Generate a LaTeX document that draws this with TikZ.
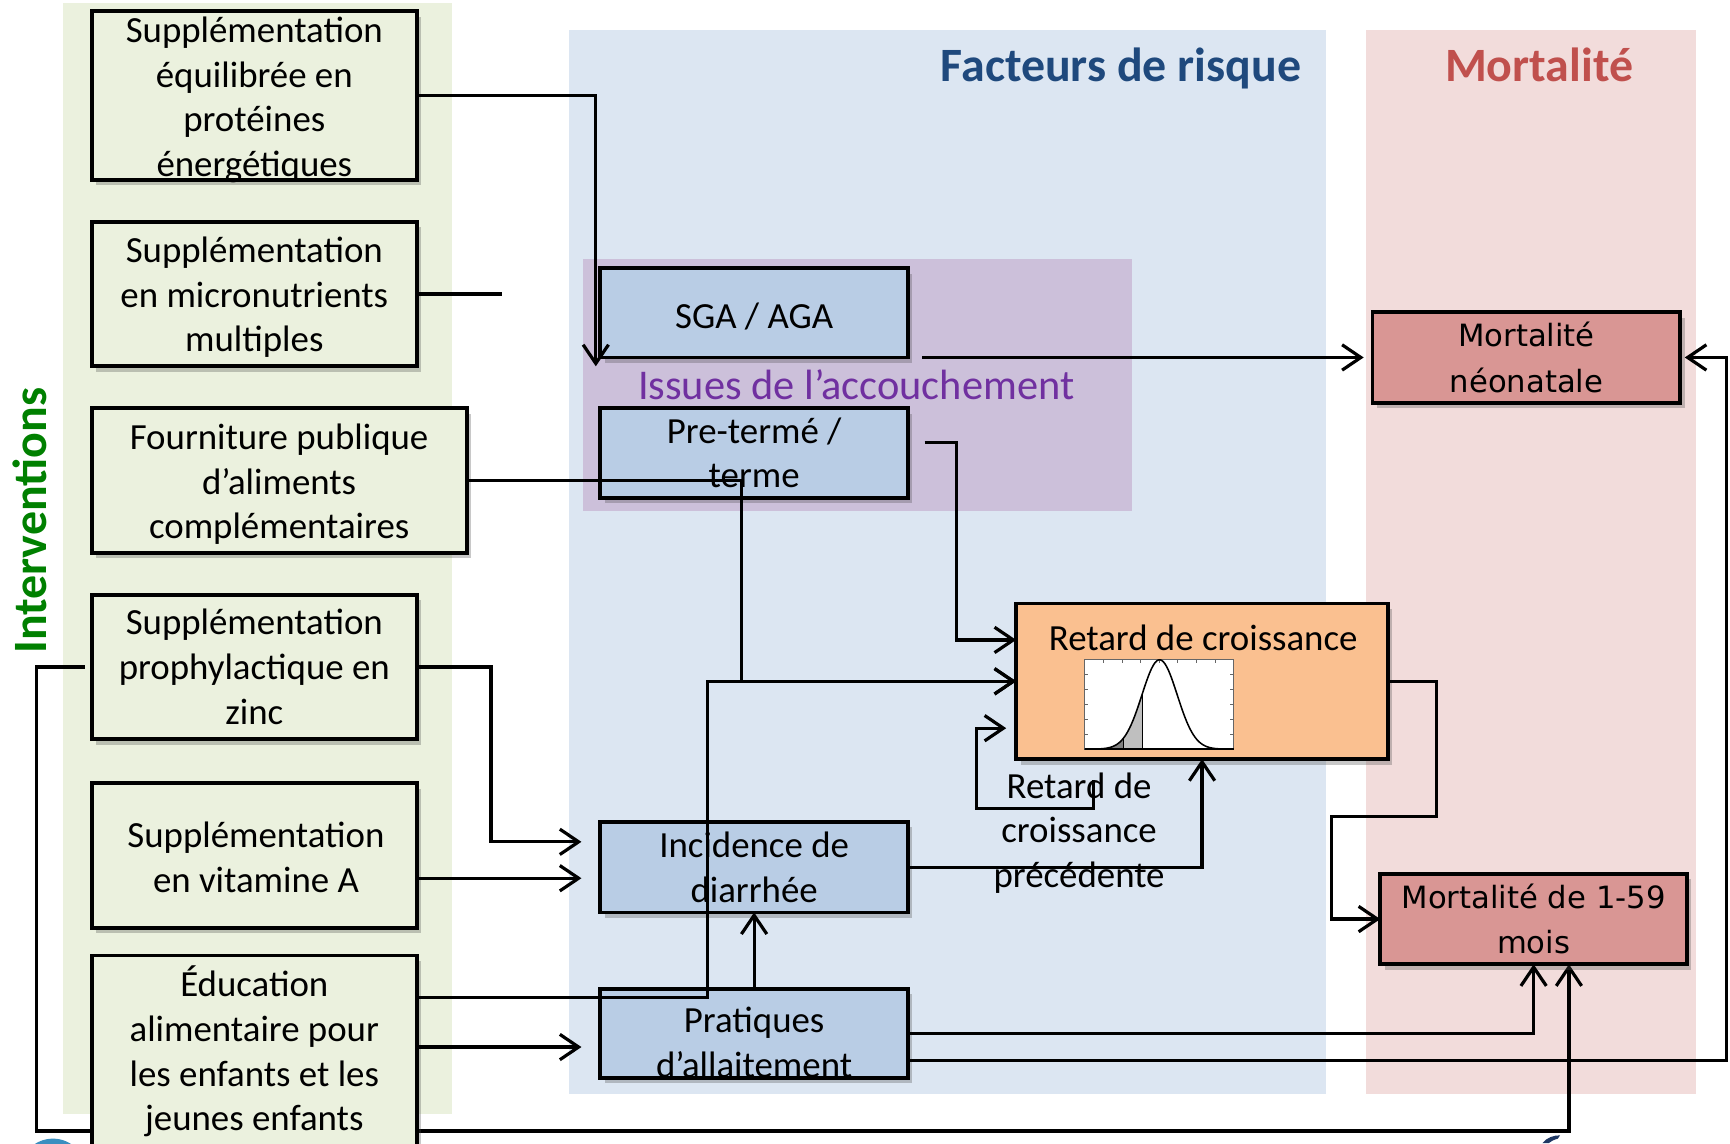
\documentclass[tikz,border=0pt]{standalone}
\usepackage{fontspec}
\setmainfont{Carlito}
\newfontfamily\verdfont{DejaVu Sans}
\usetikzlibrary{arrows.meta,shadows,calc}
\pgfdeclarelayer{bg}
\pgfdeclarelayer{low}
\pgfsetlayers{bg,low,main}

\definecolor{panelgreen}{HTML}{EBF1DE}
\definecolor{panelblue}{HTML}{DCE6F2}
\definecolor{panelpink}{HTML}{F2DCDB}
\definecolor{panelpurple}{HTML}{CCC0DA}
\definecolor{boxblue}{HTML}{B9CDE5}
\definecolor{boxorange}{HTML}{FAC090}
\definecolor{boxred}{HTML}{D99694}
\definecolor{titleblue}{HTML}{1F497D}
\definecolor{titlered}{HTML}{C0504D}
\definecolor{titlegreen}{HTML}{008000}
\definecolor{titlepurple}{HTML}{7030A0}
\definecolor{logoblue}{HTML}{3A8FC0}
\definecolor{logonavy}{HTML}{1F3864}

\newcommand{\boxfont}{\fontsize{16.7}{20.3}\selectfont}
\newcommand{\mortfont}{\verdfont\fontsize{13.9}{20.5}\selectfont}
\newcommand{\titlefont}{\bfseries\fontsize{21.7}{26}\selectfont}
\newcommand{\issuefont}{\fontsize{19.2}{23}\selectfont}

\begin{document}
\begin{tikzpicture}[x=0.5pt,y=-0.5pt,
  basebox/.style={draw=black, line width=1.75pt, inner sep=0pt, outer sep=0pt, align=center,
     drop shadow={shadow xshift=2pt, shadow yshift=-2.5pt, opacity=0.3, fill=black!70}},
  interv/.style={basebox, fill=panelgreen, font=\boxfont},
  risk/.style={basebox, fill=boxblue, font=\boxfont, minimum width=139.5pt, minimum height=40.5pt},
  mort/.style={basebox, fill=boxred, font=\mortfont, minimum height=41pt},
  conn/.style={line width=1.45pt, draw=black},
  arr/.style={conn, -{Straight Barb[length=8.5pt,width=11.5pt]}},
  plain/.style={inner sep=0pt, outer sep=0pt, align=center},
  boxtext/.style={plain, font=\boxfont}
]
\useasboundingbox (0,0) rectangle (1568,1036);
\clip (0,0) rectangle (1568,1036);

% background panels
\begin{pgfonlayer}{bg}
\fill[white] (0,0) rectangle (1568,1036);
\fill[panelgreen] (57,3) rectangle (410,1010);
\fill[panelblue] (516,27) rectangle (1202,992);
\fill[panelpink] (1238,27) rectangle (1537,992);
\fill[panelpurple] (528,235) rectangle (1026,463);
\fill[logoblue] (48,1062) circle (30);
\fill[logonavy] (1398,1036) .. controls (1402,1031) and (1408,1029) .. (1414,1029) -- (1412,1032) .. controls (1408,1033) and (1405,1035) .. (1404,1036) -- cycle;
\end{pgfonlayer}

% titles
\node[plain, font=\titlefont, text=titleblue, anchor=base] (ftitle) at (1016,74) {Facteurs de risque};
\node[plain, font=\titlefont, text=titlered, anchor=base] (mtitle) at (1395,74) {Mortalité};
\node[plain, font=\titlefont, text=titlegreen, rotate=90] (itit) at (27,472) {Interventions};
\node[plain, font=\issuefont, text=titlepurple, anchor=base] (issues) at (776,362) {Issues de l’accouchement};

% intervention boxes
\node[interv, minimum width=147.5pt, minimum height=76.5pt] (A) at (230.5,86.5) {};
\node[boxtext] (Atxt) at (230.5,90.5) {Supplémentation\\équilibrée en\\protéines\\énergétiques};
\node[interv, minimum width=147.5pt, minimum height=65.5pt] (B) at (230.5,266.5) {};
\node[boxtext] (Btxt) at (230.5,269.5) {Supplémentation\\en micronutrients\\multiples};
\node[interv, minimum width=170pt, minimum height=65.5pt] (C) at (253,435.5) {};
\node[boxtext] (Ctxt) at (253,439) {Fourniture publique\\d’aliments\\complémentaires};
\node[interv, minimum width=147.5pt, minimum height=65.5pt] (D) at (230.5,604.5) {Supplémentation\\prophylactique en\\zinc};
\node[interv, minimum width=147.5pt, minimum height=65.5pt] (E) at (230.5,775.5) {};
\node[boxtext] (Etxt) at (232,777) {Supplémentation\\en vitamine A};
\node[interv, minimum width=147.5pt, minimum height=87pt] (F) at (230.5,953) {Éducation\\alimentaire pour\\les enfants et les\\jeunes enfants};

% risk factor boxes
\node[risk] (SGA) at (683.5,283.5) {};
\node[boxtext] (SGAtxt) at (683.5,286.5) {SGA / AGA};
\node[risk] (PRE) at (683.5,410.5) {Pre-termé /\\terme};
\node[risk, minimum height=41pt] (INC) at (683.5,786) {Incidence de\\diarrhée};
\node[risk] (PRA) at (683.5,936.5) {};
\node[boxtext] (PRAtxt) at (683.5,945) {Pratiques\\d’allaitement};

% stunting box
\node[basebox, fill=boxorange, minimum width=168.5pt, minimum height=70.5pt] (RET) at (1089.5,617.5) {};
\node[boxtext] (RETtxt) at (1090.5,578) {Retard de croissance};
% distribution plot
\fill[white] (983,598) rectangle (1118,679);
\fill[black!50] (994,679) -- plot[domain=994:1018, samples=20] (\x, {679-81*exp(-0.001953*(\x-1051)*(\x-1051))}) -- (1018,679) -- cycle;
\fill[black!25] (1018,679) -- plot[domain=1018:1035, samples=20] (\x, {679-81*exp(-0.001953*(\x-1051)*(\x-1051))}) -- (1035,679) -- cycle;
\draw[line width=0.4pt] (1018,679) -- (1018,{679-81*exp(-0.001953*33*33)});
\draw[line width=0.4pt] (1035,679) -- (1035,{679-81*exp(-0.001953*16*16)});
\draw[black!60, line width=0.3pt] (983,598) rectangle (1118,679);
\foreach \t in {1,...,7} {\draw[black!60, line width=0.3pt] ({983+\t*16.9},598) -- ++(0,3);}
\foreach \t in {1,...,5} {\draw[black!60, line width=0.3pt] (983,{598+\t*13.5}) -- ++(3,0); \draw[black!60, line width=0.3pt] (1118,{598+\t*13.5}) -- ++(-3,0);}
\draw[black, line width=0.7pt] plot[domain=983:1118, samples=90] (\x, {679-81*exp(-0.001953*(\x-1051)*(\x-1051))});
\draw[black, line width=0.7pt] (983,679) -- (1118,679);

\node[boxtext] (prevlabel) at (978,755) {Retard de\\croissance\\précédente};

% mortality boxes
\node[mort, minimum width=139.5pt] (MN) at (1383.5,324) {Mortalité\\néonatale};
\node[mort, minimum width=139pt] (M159) at (1390,833) {Mortalité de 1-59\\mois};

% connectors
\begin{pgfonlayer}{low}
\draw[arr, shorten <=3pt] (D.west) -| (33,1025) -| (1422,0 |- M159.south);
\end{pgfonlayer}

\draw[arr] (A.east) -| ([shift={(-4,8)}]SGA.south west);
\coordinate (Bend) at (455,266.5);
\draw[conn] (B.east) -- (Bend);
\draw[arr] (C.east) -| (672,617.5) -- (RET.west);
\draw[arr] (F.east |- 0,904) -| (641,617.5) -- (RET.west);
\draw[arr, shorten >=8.5pt] (D.east) -| (445,763) -- (INC.west |- 0,763);
\draw[arr, shorten >=8.5pt] (E.east |- 0,796) -- (INC.west |- 0,796);
\draw[arr, shorten >=8.5pt] (F.east |- 0,949) -- (PRA.west |- 0,949);
\draw[arr, shorten <=6.5pt, shorten >=4pt] (SGA.south east) -- (MN.west);
\draw[arr, shorten <=7.5pt] (PRE.east |- 0,401) -| (867,580) -- (RET.west |- 0,580);
\coordinate (loopstart) at (991,707);
\draw[arr, shorten >=4.5pt] (loopstart) -- (991,733) -| (885,660) -- (RET.west |- 0,660);
\draw[arr] (INC.east) -| (RET.south);
\draw[arr] (PRA.north) -- (INC.south);
\draw[arr] (PRA.east) -| (M159.south);
\draw[arr, shorten >=2pt] (PRA.east |- 0,961) -| (1565,324) -- (MN.east);
\draw[arr] (RET.east) -- (1302,617.5) |- (1207,740) |- (M159.west);
\end{tikzpicture}
\end{document}
